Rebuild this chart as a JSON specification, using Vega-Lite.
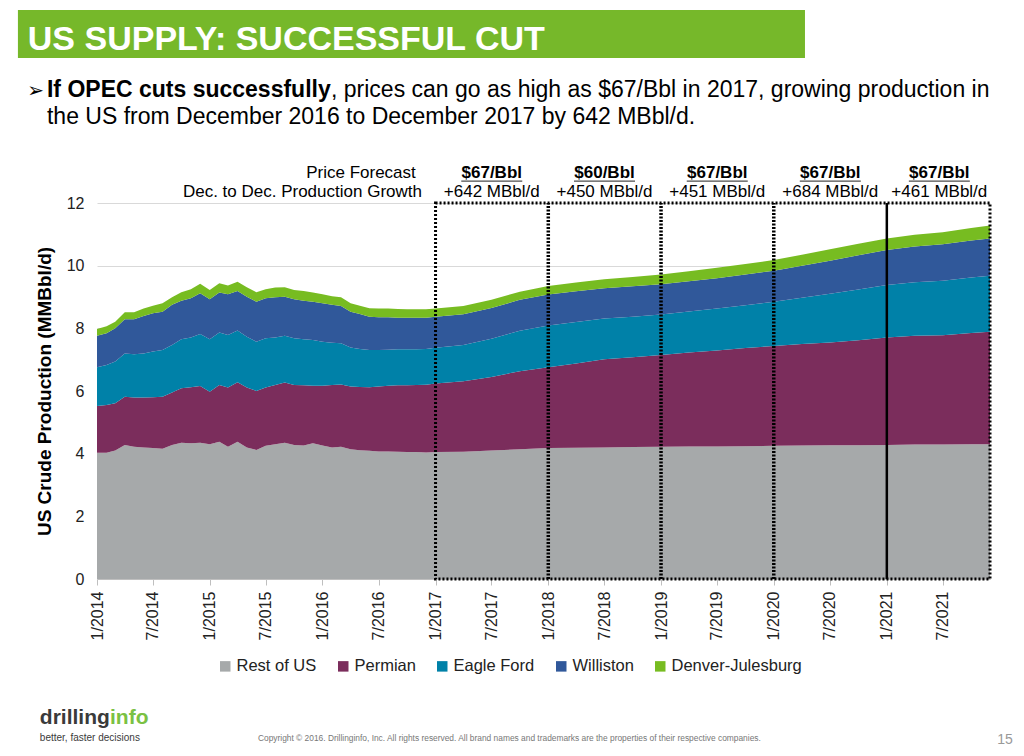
{
  "$schema": "https://vega.github.io/schema/vega-lite/v6.json",
  "width": 893,
  "height": 376,
  "autosize": {"type": "none"},
  "padding": {"left": 97, "top": 203, "right": 34, "bottom": 177},
  "background": "white",
  "config": {"font": "Liberation Sans", "view": {"stroke": null}},
  "datasets": {
    "seriesInfo": [
      {"series": "Rest of US", "ord": 1},
      {"series": "Permian", "ord": 2},
      {"series": "Eagle Ford", "ord": 3},
      {"series": "Williston", "ord": 4},
      {"series": "Denver-Julesburg", "ord": 5}
    ]
  },
  "layer": [
    {
      "data": {
        "format": {"parse": {"d": "date:'%Y-%m'"}},
        "values": [
          {"d": "2014-01", "Rest of US": 4.03, "Permian": 1.49, "Eagle Ford": 1.24, "Williston": 1.00, "Denver-Julesburg": 0.22},
          {"d": "2014-02", "Rest of US": 4.03, "Permian": 1.52, "Eagle Ford": 1.28, "Williston": 1.01, "Denver-Julesburg": 0.23},
          {"d": "2014-03", "Rest of US": 4.10, "Permian": 1.51, "Eagle Ford": 1.33, "Williston": 1.06, "Denver-Julesburg": 0.21},
          {"d": "2014-04", "Rest of US": 4.28, "Permian": 1.54, "Eagle Ford": 1.38, "Williston": 1.09, "Denver-Julesburg": 0.22},
          {"d": "2014-05", "Rest of US": 4.22, "Permian": 1.57, "Eagle Ford": 1.38, "Williston": 1.12, "Denver-Julesburg": 0.22},
          {"d": "2014-06", "Rest of US": 4.20, "Permian": 1.59, "Eagle Ford": 1.41, "Williston": 1.19, "Denver-Julesburg": 0.24},
          {"d": "2014-07", "Rest of US": 4.18, "Permian": 1.62, "Eagle Ford": 1.46, "Williston": 1.22, "Denver-Julesburg": 0.24},
          {"d": "2014-08", "Rest of US": 4.16, "Permian": 1.66, "Eagle Ford": 1.49, "Williston": 1.22, "Denver-Julesburg": 0.27},
          {"d": "2014-09", "Rest of US": 4.28, "Permian": 1.67, "Eagle Ford": 1.52, "Williston": 1.28, "Denver-Julesburg": 0.24},
          {"d": "2014-10", "Rest of US": 4.35, "Permian": 1.74, "Eagle Ford": 1.56, "Williston": 1.23, "Denver-Julesburg": 0.27},
          {"d": "2014-11", "Rest of US": 4.33, "Permian": 1.79, "Eagle Ford": 1.59, "Williston": 1.25, "Denver-Julesburg": 0.29},
          {"d": "2014-12", "Rest of US": 4.35, "Permian": 1.81, "Eagle Ford": 1.66, "Williston": 1.30, "Denver-Julesburg": 0.30},
          {"d": "2015-01", "Rest of US": 4.30, "Permian": 1.68, "Eagle Ford": 1.67, "Williston": 1.28, "Denver-Julesburg": 0.29},
          {"d": "2015-02", "Rest of US": 4.38, "Permian": 1.81, "Eagle Ford": 1.68, "Williston": 1.27, "Denver-Julesburg": 0.30},
          {"d": "2015-03", "Rest of US": 4.22, "Permian": 1.89, "Eagle Ford": 1.68, "Williston": 1.30, "Denver-Julesburg": 0.28},
          {"d": "2015-04", "Rest of US": 4.38, "Permian": 1.90, "Eagle Ford": 1.65, "Williston": 1.26, "Denver-Julesburg": 0.30},
          {"d": "2015-05", "Rest of US": 4.20, "Permian": 1.91, "Eagle Ford": 1.62, "Williston": 1.28, "Denver-Julesburg": 0.30},
          {"d": "2015-06", "Rest of US": 4.12, "Permian": 1.88, "Eagle Ford": 1.57, "Williston": 1.28, "Denver-Julesburg": 0.30},
          {"d": "2015-07", "Rest of US": 4.25, "Permian": 1.86, "Eagle Ford": 1.57, "Williston": 1.28, "Denver-Julesburg": 0.29},
          {"d": "2015-08", "Rest of US": 4.30, "Permian": 1.89, "Eagle Ford": 1.52, "Williston": 1.28, "Denver-Julesburg": 0.31},
          {"d": "2015-09", "Rest of US": 4.35, "Permian": 1.92, "Eagle Ford": 1.49, "Williston": 1.25, "Denver-Julesburg": 0.30},
          {"d": "2015-10", "Rest of US": 4.28, "Permian": 1.91, "Eagle Ford": 1.49, "Williston": 1.25, "Denver-Julesburg": 0.29},
          {"d": "2015-11", "Rest of US": 4.26, "Permian": 1.92, "Eagle Ford": 1.47, "Williston": 1.23, "Denver-Julesburg": 0.31},
          {"d": "2015-12", "Rest of US": 4.33, "Permian": 1.84, "Eagle Ford": 1.46, "Williston": 1.22, "Denver-Julesburg": 0.29},
          {"d": "2016-01", "Rest of US": 4.26, "Permian": 1.91, "Eagle Ford": 1.40, "Williston": 1.23, "Denver-Julesburg": 0.29},
          {"d": "2016-02", "Rest of US": 4.20, "Permian": 1.99, "Eagle Ford": 1.35, "Williston": 1.21, "Denver-Julesburg": 0.27},
          {"d": "2016-03", "Rest of US": 4.22, "Permian": 1.99, "Eagle Ford": 1.31, "Williston": 1.19, "Denver-Julesburg": 0.28},
          {"d": "2016-04", "Rest of US": 4.14, "Permian": 2.00, "Eagle Ford": 1.25, "Williston": 1.14, "Denver-Julesburg": 0.27},
          {"d": "2016-05", "Rest of US": 4.11, "Permian": 2.02, "Eagle Ford": 1.21, "Williston": 1.12, "Denver-Julesburg": 0.26},
          {"d": "2016-06", "Rest of US": 4.09, "Permian": 2.03, "Eagle Ford": 1.19, "Williston": 1.06, "Denver-Julesburg": 0.27},
          {"d": "2016-07", "Rest of US": 4.07, "Permian": 2.07, "Eagle Ford": 1.17, "Williston": 1.04, "Denver-Julesburg": 0.28},
          {"d": "2016-08", "Rest of US": 4.07, "Permian": 2.10, "Eagle Ford": 1.15, "Williston": 1.03, "Denver-Julesburg": 0.28},
          {"d": "2016-09", "Rest of US": 4.06, "Permian": 2.12, "Eagle Ford": 1.15, "Williston": 1.01, "Denver-Julesburg": 0.28},
          {"d": "2016-10", "Rest of US": 4.05, "Permian": 2.13, "Eagle Ford": 1.15, "Williston": 1.01, "Denver-Julesburg": 0.27},
          {"d": "2016-11", "Rest of US": 4.05, "Permian": 2.14, "Eagle Ford": 1.14, "Williston": 1.01, "Denver-Julesburg": 0.27},
          {"d": "2016-12", "Rest of US": 4.04, "Permian": 2.16, "Eagle Ford": 1.14, "Williston": 1.00, "Denver-Julesburg": 0.27},
          {"d": "2017-01", "Rest of US": 4.05, "Permian": 2.19, "Eagle Ford": 1.14, "Williston": 0.99, "Denver-Julesburg": 0.26},
          {"d": "2017-04", "Rest of US": 4.06, "Permian": 2.25, "Eagle Ford": 1.16, "Williston": 0.98, "Denver-Julesburg": 0.26},
          {"d": "2017-07", "Rest of US": 4.10, "Permian": 2.35, "Eagle Ford": 1.22, "Williston": 0.98, "Denver-Julesburg": 0.26},
          {"d": "2017-10", "Rest of US": 4.14, "Permian": 2.49, "Eagle Ford": 1.29, "Williston": 0.99, "Denver-Julesburg": 0.26},
          {"d": "2018-01", "Rest of US": 4.18, "Permian": 2.58, "Eagle Ford": 1.33, "Williston": 0.99, "Denver-Julesburg": 0.27},
          {"d": "2018-04", "Rest of US": 4.19, "Permian": 2.69, "Eagle Ford": 1.32, "Williston": 0.98, "Denver-Julesburg": 0.28},
          {"d": "2018-07", "Rest of US": 4.20, "Permian": 2.81, "Eagle Ford": 1.30, "Williston": 0.97, "Denver-Julesburg": 0.29},
          {"d": "2018-10", "Rest of US": 4.21, "Permian": 2.87, "Eagle Ford": 1.29, "Williston": 0.97, "Denver-Julesburg": 0.30},
          {"d": "2019-01", "Rest of US": 4.22, "Permian": 2.93, "Eagle Ford": 1.29, "Williston": 0.97, "Denver-Julesburg": 0.31},
          {"d": "2019-04", "Rest of US": 4.23, "Permian": 3.00, "Eagle Ford": 1.31, "Williston": 0.96, "Denver-Julesburg": 0.32},
          {"d": "2019-07", "Rest of US": 4.23, "Permian": 3.06, "Eagle Ford": 1.34, "Williston": 0.97, "Denver-Julesburg": 0.33},
          {"d": "2019-10", "Rest of US": 4.24, "Permian": 3.13, "Eagle Ford": 1.37, "Williston": 0.98, "Denver-Julesburg": 0.33},
          {"d": "2020-01", "Rest of US": 4.25, "Permian": 3.19, "Eagle Ford": 1.41, "Williston": 0.99, "Denver-Julesburg": 0.34},
          {"d": "2020-04", "Rest of US": 4.26, "Permian": 3.24, "Eagle Ford": 1.48, "Williston": 1.02, "Denver-Julesburg": 0.35},
          {"d": "2020-07", "Rest of US": 4.27, "Permian": 3.28, "Eagle Ford": 1.55, "Williston": 1.06, "Denver-Julesburg": 0.36},
          {"d": "2020-10", "Rest of US": 4.27, "Permian": 3.35, "Eagle Ford": 1.62, "Williston": 1.09, "Denver-Julesburg": 0.37},
          {"d": "2021-01", "Rest of US": 4.28, "Permian": 3.43, "Eagle Ford": 1.67, "Williston": 1.12, "Denver-Julesburg": 0.37},
          {"d": "2021-04", "Rest of US": 4.29, "Permian": 3.47, "Eagle Ford": 1.71, "Williston": 1.14, "Denver-Julesburg": 0.38},
          {"d": "2021-07", "Rest of US": 4.29, "Permian": 3.49, "Eagle Ford": 1.74, "Williston": 1.16, "Denver-Julesburg": 0.39},
          {"d": "2021-10", "Rest of US": 4.30, "Permian": 3.55, "Eagle Ford": 1.77, "Williston": 1.18, "Denver-Julesburg": 0.40},
          {"d": "2021-12", "Rest of US": 4.30, "Permian": 3.59, "Eagle Ford": 1.79, "Williston": 1.19, "Denver-Julesburg": 0.41}
        ]
      },
      "transform": [
        {"fold": ["Rest of US", "Permian", "Eagle Ford", "Williston", "Denver-Julesburg"], "as": ["series", "mmbd"]},
        {"lookup": "series", "from": {"data": {"name": "seriesInfo"}, "key": "series", "fields": ["ord"]}}
      ],
      "mark": {"type": "area", "interpolate": "linear"},
      "encoding": {
        "x": {
          "field": "d", "type": "temporal",
          "scale": {"domain": [{"year": 2014, "month": 1, "date": 1}, {"year": 2021, "month": 12, "date": 1}], "nice": false},
          "axis": {
            "title": null, "format": "%-m/%Y", "tickCount": {"interval": "month", "step": 6},
            "labelAngle": -90, "labelFontSize": 16, "labelColor": "#222", "labelPadding": 6,
            "labelFlush": false, "labelOverlap": false, "tickSize": 6, "tickColor": "#bfbfbf",
            "domainColor": "#bfbfbf", "grid": false
          }
        },
        "y": {
          "field": "mmbd", "type": "quantitative", "stack": "zero",
          "scale": {"domain": [0, 12], "nice": false},
          "axis": {
            "title": "US Crude Production (MMBbl/d)", "titleFontSize": 19, "titleFontWeight": "bold",
            "titleColor": "#000", "titlePadding": 12, "values": [0, 2, 4, 6, 8, 10, 12],
            "labelFontSize": 16, "labelColor": "#222", "labelPadding": 13, "ticks": false, "tickSize": 0,
            "domain": false, "grid": true, "gridColor": "#d9d9d9"
          }
        },
        "color": {
          "field": "series", "type": "nominal",
          "scale": {
            "domain": ["Rest of US", "Permian", "Eagle Ford", "Williston", "Denver-Julesburg"],
            "range": ["#A6A9AA", "#7B2D5C", "#0081A8", "#30589A", "#77BC21"]
          },
          "legend": {
            "orient": "none", "legendX": 120, "legendY": 455, "direction": "horizontal", "columns": 5,
            "title": null, "symbolType": "square", "symbolSize": 110, "symbolStrokeWidth": 0,
            "labelFontSize": 16.5, "labelColor": "#222", "columnPadding": 18, "labelOffset": 3
          }
        },
        "order": {"field": "ord", "type": "quantitative"}
      }
    },
    {
      "data": {"values": [{}]},
      "mark": {"type": "rect", "filled": false, "stroke": "#000", "strokeWidth": 3, "strokeDash": [2, 2]},
      "encoding": {
        "x": {"datum": {"year": 2017, "month": 1, "date": 1}, "type": "temporal"},
        "x2": {"datum": {"year": 2021, "month": 12, "date": 1}},
        "y": {"datum": 0, "type": "quantitative"},
        "y2": {"datum": 12}
      }
    },
    {
      "data": {"values": [{"b": "2018-01"}, {"b": "2019-01"}, {"b": "2020-01"}], "format": {"parse": {"b": "date:'%Y-%m'"}}},
      "mark": {"type": "rule", "color": "#000", "strokeWidth": 3.5, "strokeDash": [2, 1.5]},
      "encoding": {
        "x": {"field": "b", "type": "temporal"},
        "y": {"datum": 0, "type": "quantitative"},
        "y2": {"datum": 12}
      }
    },
    {
      "data": {"values": [{"b": "2021-01"}], "format": {"parse": {"b": "date:'%Y-%m'"}}},
      "mark": {"type": "rule", "color": "#000", "strokeWidth": 2.5},
      "encoding": {
        "x": {"field": "b", "type": "temporal"},
        "y": {"datum": 0, "type": "quantitative"},
        "y2": {"datum": 12}
      }
    },
    {
      "data": {
        "format": {"parse": {"mid": "date:'%Y-%m-%d'"}},
        "values": [
          {"mid": "2017-07-02", "price": "$67/Bbl", "growth": "+642 MBbl/d"},
          {"mid": "2018-07-02", "price": "$60/Bbl", "growth": "+450 MBbl/d"},
          {"mid": "2019-07-02", "price": "$67/Bbl", "growth": "+451 MBbl/d"},
          {"mid": "2020-07-02", "price": "$67/Bbl", "growth": "+684 MBbl/d"},
          {"mid": "2021-06-20", "price": "$67/Bbl", "growth": "+461 MBbl/d"}
        ]
      },
      "layer": [
        {
          "mark": {"type": "text", "fontSize": 17, "fontWeight": "bold", "color": "#000", "align": "center", "baseline": "alphabetic"},
          "encoding": {"x": {"field": "mid", "type": "temporal"}, "y": {"datum": 12.8, "type": "quantitative"}, "text": {"field": "price"}}
        },
        {
          "mark": {"type": "tick", "orient": "horizontal", "size": 61, "thickness": 1.3, "color": "#000"},
          "encoding": {"x": {"field": "mid", "type": "temporal"}, "y": {"datum": 12.7, "type": "quantitative"}}
        },
        {
          "mark": {"type": "text", "fontSize": 17, "color": "#000", "align": "center", "baseline": "alphabetic"},
          "encoding": {"x": {"field": "mid", "type": "temporal"}, "y": {"datum": 12.19, "type": "quantitative"}, "text": {"field": "growth"}}
        }
      ]
    },
    {
      "data": {"values": [{}]},
      "layer": [
        {
          "mark": {"type": "rect", "color": "#76B82A"},
          "encoding": {
            "x": {"datum": {"year": 2013, "month": 4, "date": 20}, "type": "temporal"},
            "x2": {"datum": {"year": 2020, "month": 4, "date": 11}},
            "y": {"datum": 18.16, "type": "quantitative"},
            "y2": {"datum": 16.63}
          }
        },
        {
          "mark": {"type": "text", "text": "US SUPPLY: SUCCESSFUL CUT", "fontSize": 34, "fontWeight": "bold", "color": "#ffffff", "align": "left", "baseline": "alphabetic"},
          "encoding": {"x": {"datum": {"year": 2013, "month": 5, "date": 22}, "type": "temporal"}, "y": {"datum": 16.88, "type": "quantitative"}}
        },
        {
          "mark": {"type": "text", "text": "➢", "font": "DejaVu Sans", "fontSize": 20, "color": "#000", "align": "left", "baseline": "alphabetic"},
          "encoding": {"x": {"datum": {"year": 2013, "month": 5, "date": 20}, "type": "temporal"}, "y": {"datum": 15.39, "type": "quantitative"}}
        },
        {
          "mark": {"type": "text", "text": "If OPEC cuts successfully", "fontSize": 23, "fontWeight": "bold", "color": "#000", "align": "left", "baseline": "alphabetic"},
          "encoding": {"x": {"datum": {"year": 2013, "month": 7, "date": 23}, "type": "temporal"}, "y": {"datum": 15.39, "type": "quantitative"}}
        },
        {
          "mark": {"type": "text", "text": ", prices can go as high as $67/Bbl in 2017, growing production in", "fontSize": 23, "color": "#000", "align": "left", "baseline": "alphabetic"},
          "encoding": {"x": {"datum": {"year": 2016, "month": 1, "date": 28, "hours": 14}, "type": "temporal"}, "y": {"datum": 15.39, "type": "quantitative"}}
        },
        {
          "mark": {"type": "text", "text": "the US from December 2016 to December 2017 by 642 MBbl/d.", "fontSize": 23, "color": "#000", "align": "left", "baseline": "alphabetic"},
          "encoding": {"x": {"datum": {"year": 2013, "month": 7, "date": 23}, "type": "temporal"}, "y": {"datum": 14.51, "type": "quantitative"}}
        },
        {
          "mark": {"type": "text", "text": "Price Forecast", "fontSize": 17, "color": "#000", "align": "right", "baseline": "alphabetic"},
          "encoding": {"x": {"datum": {"year": 2016, "month": 10, "date": 29}, "type": "temporal"}, "y": {"datum": 12.8, "type": "quantitative"}}
        },
        {
          "mark": {"type": "text", "text": "Dec. to Dec. Production Growth", "fontSize": 17, "color": "#000", "align": "right", "baseline": "alphabetic"},
          "encoding": {"x": {"datum": {"year": 2016, "month": 11, "date": 18}, "type": "temporal"}, "y": {"datum": 12.19, "type": "quantitative"}}
        },
        {
          "mark": {"type": "text", "text": "drilling", "fontSize": 21, "fontWeight": "bold", "color": "#3a3a3a", "align": "left", "baseline": "alphabetic"},
          "encoding": {"x": {"datum": {"year": 2013, "month": 6, "date": 30}, "type": "temporal"}, "y": {"datum": -4.63, "type": "quantitative"}}
        },
        {
          "mark": {"type": "text", "text": "info", "fontSize": 21, "fontWeight": "bold", "color": "#7AC143", "align": "left", "baseline": "alphabetic"},
          "encoding": {"x": {"datum": {"year": 2014, "month": 2, "date": 12}, "type": "temporal"}, "y": {"datum": -4.63, "type": "quantitative"}}
        },
        {
          "mark": {"type": "text", "text": "better, faster decisions", "fontSize": 10, "color": "#3a3a3a", "align": "left", "baseline": "alphabetic"},
          "encoding": {"x": {"datum": {"year": 2013, "month": 6, "date": 30}, "type": "temporal"}, "y": {"datum": -5.17, "type": "quantitative"}}
        },
        {
          "mark": {"type": "text", "text": "Copyright © 2016. Drillinginfo, Inc. All rights reserved. All brand names and trademarks are the properties of their respective companies.", "fontSize": 8.4, "color": "#777777", "align": "left", "baseline": "alphabetic"},
          "encoding": {"x": {"datum": {"year": 2015, "month": 6, "date": 6}, "type": "temporal"}, "y": {"datum": -5.17, "type": "quantitative"}}
        },
        {
          "mark": {"type": "text", "text": "15", "fontSize": 14, "color": "#999999", "align": "right", "baseline": "alphabetic"},
          "encoding": {"x": {"datum": {"year": 2022, "month": 2, "date": 13}, "type": "temporal"}, "y": {"datum": -5.27, "type": "quantitative"}}
        }
      ]
    }
  ]
}
